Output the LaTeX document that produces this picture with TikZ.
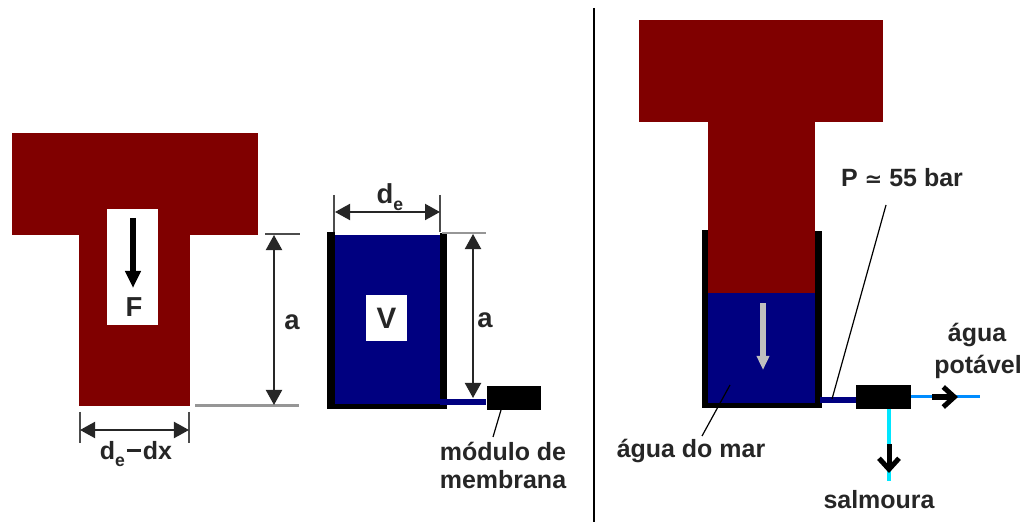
\documentclass[tikz,border=0pt]{standalone}
\usepackage{fontspec}
\setmainfont{Liberation Sans}
\newfontfamily\symfont{DejaVu Sans}
\definecolor{pistonred}{RGB}{128,0,0}
\definecolor{watblue}{RGB}{0,0,128}
\definecolor{dimgray}{RGB}{150,150,150}
\definecolor{fresh}{RGB}{0,140,255}
\definecolor{brine}{RGB}{0,230,255}
\usetikzlibrary{arrows.meta,positioning}

\begin{document}
\begin{tikzpicture}[x=0.01cm,y=-0.01cm,
        lbl/.style={font=\fontsize{7.1}{9}\selectfont\bfseries, inner sep=0pt, align=center, text=black!85},
        biglbl/.style={font=\fontsize{7.8}{9}\selectfont\bfseries, inner sep=0pt, align=center, text=black!85},
        dimarr/.style={{Triangle[length=0.15cm,width=0.16cm]}-{Triangle[length=0.15cm,width=0.16cm]}, line width=0.2mm, black!85},
        tick/.style={line width=0.2mm, black!70},
        grayline/.style={line width=0.25mm, dimgray},
        leader/.style={line width=0.12mm, black},
        flowarr/.style={-{Straight Barb[length=0.11cm,width=0.2cm]}, line width=0.5mm, black},
        modbox/.style={rectangle, fill=black, inner sep=0pt, minimum width=0.545cm, minimum height=0.24cm},
        pipe/.style={line width=0.05cm, watblue}
      ]
        \useasboundingbox (0,0) rectangle (1022,522);

        % left piston
        \fill[pistonred] (12,133) rectangle (258,235);
        \fill[pistonred] (79,235) rectangle (190,406);
        \fill[white] (107,209) rectangle (158,325);
        \coordinate (fa) at (133,218);
        \coordinate (fb) at (133,288);
        \draw[-{Triangle[length=0.17cm,width=0.15cm]}, line width=0.6mm, black] (fa) -- (fb);
        \node[biglbl] (fl) at (134,307) {F};

        \coordinate (a1t) at (265,234);
        \coordinate (a1tr) at (300,234);
        \coordinate (a1b) at (195,405.5);
        \coordinate (a1br) at (299,405.5);
        \draw[line width=0.15mm, black!70] (a1t) -- (a1tr);
        \draw[grayline] (a1b) -- (a1br);
        \coordinate (a1u) at (274,235);
        \coordinate (a1d) at (274,405);
        \draw[dimarr] (a1u) -- (a1d);
        \node[biglbl] (a1l) at (292,322) {a};

        \coordinate (dl) at (80,430);
        \coordinate (dr) at (189,430);
        \draw[tick] (80,412) -- (80,443);
        \draw[tick] (189,412) -- (189,443);
        \draw[dimarr] (dl) -- (dr);
        \node[lbl] (dxl) at (136,454) {d\raisebox{-0.5ex}{\fontsize{5}{5}\selectfont e}\hspace{0.02cm}\rule[0.55ex]{0.14cm}{0.3mm}\hspace{0.02cm}dx};

        % vessel
        \fill[watblue] (335,235) rectangle (440,404);
        \fill[black] (327,232) rectangle (335,409);
        \fill[black] (440,233) rectangle (447,409);
        \fill[black] (327,404) rectangle (447,409);
        \node[rectangle, fill=white, minimum width=0.41cm, minimum height=0.45cm, inner sep=0pt, font=\fontsize{8.4}{9}\selectfont\bfseries, text=black!85] (vol) at (386.5,318) {V};

        \draw[tick] (334,195) -- (334,232);
        \draw[tick] (440,195) -- (440,232);
        \coordinate (dl2) at (335,212);
        \coordinate (dr2) at (440,212);
        \draw[dimarr] (dl2) -- (dr2);
        \node[biglbl] (del) at (390,197) {d\raisebox{-0.5ex}{\fontsize{5}{5}\selectfont e}};

        \coordinate (a2t) at (442,233);
        \coordinate (a2tr) at (486,233);
        \draw[grayline] (a2t) -- (a2tr);
        \coordinate (a2u) at (473,234);
        \coordinate (a2d) at (473,398);
        \draw[dimarr] (a2u) -- (a2d);
        \node[biglbl] (a2l) at (485,320) {a};

        \node[modbox] (mod1) at (514,398) {};
        \coordinate (p1) at (440,402);
        \draw[pipe] (p1) -- (p1 -| mod1.west);
        \coordinate (m1t) at (493,437);
        \draw[leader] (501,410) -- (m1t);
        \node[lbl] (mod1l) at (503,451) {módulo de};
        \node[lbl] (mod2l) at (503,480) {membrana};

        % divider
        \coordinate (div1) at (594,8);
        \coordinate (div2) at (594,522);
        \draw[line width=0.2mm, black] (div1) -- (div2);

        % right piston
        \fill[pistonred] (639,20) rectangle (883,122);
        \fill[pistonred] (708,122) rectangle (815,293);
        \fill[watblue] (708,293) rectangle (815,403);
        \fill[black] (702,230) rectangle (708,408);
        \fill[black] (815,231) rectangle (822,408);
        \fill[black] (702,403) rectangle (822,408);
        \coordinate (ga) at (763,303);
        \coordinate (gb) at (763,370);
        \draw[-{Triangle[length=0.14cm,width=0.12cm]}, line width=0.65mm, black!25] (ga) -- (gb);

        \node[modbox] (mod2) at (883.5,397) {};
        \coordinate (p2) at (820,400);
        \draw[pipe] (p2) -- (p2 -| mod2.west);

        \coordinate (fw) at (980,397);
        \draw[line width=0.3mm, fresh] (mod2.east) -- (fw);
        \coordinate (fwa) at (932,397);
        \coordinate (fwb) at (958,397);
        \draw[flowarr] (fwa) -- (fwb);

        \coordinate (bs) at (889,409);
        \coordinate (be) at (889,481);
        \draw[line width=0.4mm, brine] (bs) -- (be);
        \coordinate (bra) at (889,444);
        \coordinate (brb) at (889,473);
        \draw[flowarr] (bra) -- (brb);

        \node[lbl] (pl) at (902,178) {P {\symfont\fontsize{6}{8}\selectfont ≃} 55 bar};
        \node[lbl] (fl1) at (977,335) {água};
        \node[lbl] (fl2) at (978,367) {potável};
        \node[lbl] (sl) at (879,500) {salmoura};
        \node[lbl] (sea) at (691,451) {água do mar};

        \coordinate (pt) at (886,205);
        \coordinate (pb) at (832,399);
        \draw[leader] (pt) -- (pb);
        \coordinate (st) at (730,385);
        \coordinate (sb) at (702,436);
        \draw[leader, black] (st) -- (sb);
      \end{tikzpicture}
\end{document}
